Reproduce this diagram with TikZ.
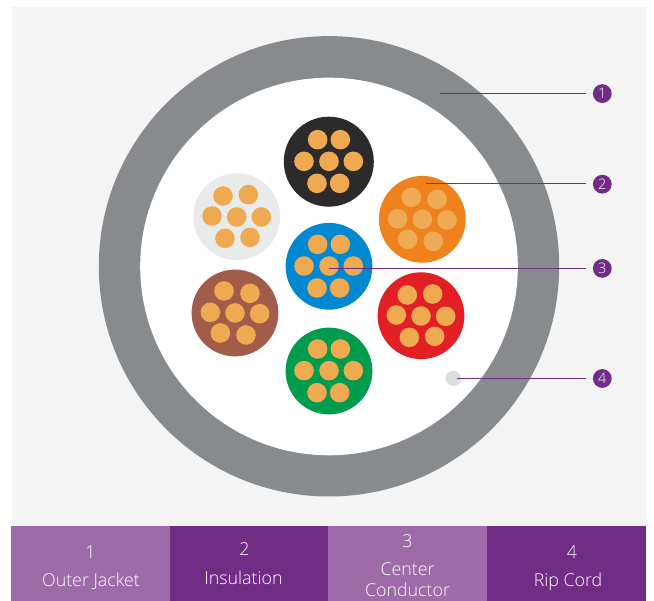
\documentclass[tikz,border=0pt]{standalone}
\usepackage{fontspec}
\setmainfont{Open Sans Light}[BoldFont={Open Sans}]
\definecolor{panel}{HTML}{F4F4F4}
\definecolor{jacket}{HTML}{888B8D}
\definecolor{purp}{HTML}{712D85}
\definecolor{lpurp}{HTML}{9E6AA8}
\definecolor{copper}{HTML}{EFA950}
\definecolor{copperb}{HTML}{EFAA55}
\definecolor{cblack}{HTML}{2C2A2B}
\definecolor{cgray}{HTML}{E9EBEA}
\definecolor{corange}{HTML}{F0821E}
\definecolor{cblue}{HTML}{0089D0}
\definecolor{cbrown}{HTML}{A25D4A}
\definecolor{cred}{HTML}{E31F26}
\definecolor{cgreen}{HTML}{009B4C}
\definecolor{cord}{HTML}{DCDDDE}
\tikzset{
  x=1pt,y=-1pt,
  wire/.style={fill=#1,draw=none},
  strand/.style={fill=#1,draw=none},
  leader/.style={draw=purp,line width=1pt},
  badge/.style={circle,fill=purp,text=white,inner sep=0pt,minimum size=18.8pt,font=\fontsize{14.5}{14.5}\selectfont},
  barbox/.style={rectangle,fill=#1,draw=none,inner sep=0pt,minimum width=158.6pt,minimum height=75pt,anchor=north west},
  bartext/.style={text=white,inner sep=0pt,font=\fontsize{17.8}{17.8}\selectfont},
}
% centre in zoom units (3x, origin 180,110); strand centres likewise
\newcommand{\cablewire}[5][copper]{%
  \fill[wire=#3] ({#2}) circle (#5);
  \foreach \sx/\sy in {#4}{
    \fill[strand=#1] ({180+\sx/3},{110+\sy/3}) circle (9.8);
  }%
}
\begin{document}
\begin{tikzpicture}
\useasboundingbox (0,0) rectangle (654,601);
\fill[white] (0,0) rectangle (654,601);
\fill[panel] (12,7) rectangle (646,526);
\fill[jacket] (329,266.3) circle (230.2);
\fill[white] (329,266.5) circle (188.8);

\cablewire{328.8,161.7}{cblack}{413/89,481/89,372/154,447/154,520/154,411/220,479/220}{45}
\cablewire{236.7,216.7}{cgray}{129/258,205/254,96/318,170/321,244/321,135/385,210/382}{43.4}
\cablewire[copperb]{422.3,219.3}{corange}{694/262,771/268,653/326,727/328,801/330,683/388,760/394}{43.4}
\cablewire{329,266.3}{cblue}{413/403,481/403,372/468,447/468,520/468,411/534,479/534}{43.4}
\cablewire{235,313}{cbrown}{132/543,210/550,91/607,165/609,239/611,121/669,198/675}{43.4}
\cablewire{421,315.7}{cred}{682/555,758/552,649/615,723/618,797/619,688/682,764/679}{43.4}
\cablewire{329,371}{cgreen}{413/717,481/717,372/782,447/782,520/782,411/848,479/848}{43.4}
\fill[cord] (453.3,378.4) circle (7.7);

\coordinate (p1) at (440,93.4);
\coordinate (p2) at (426,184);
\coordinate (p3) at (329,268.3);
\coordinate (p4) at (456.7,378.4);
\node[badge] (b1) at (602.3,93.6) {1};
\node[badge] (b2) at (602.3,184.2) {2};
\node[badge] (b3) at (602.3,268.4) {3};
\node[badge] (b4) at (602.3,378.5) {4};
\coordinate (e1) at (585.7,93.4);
\coordinate (e2) at (585.7,184);
\coordinate (e3) at (585.7,268.3);
\coordinate (e4) at (585.7,378.4);
\draw[leader] (p1) -- (e1);
\draw[leader] (p2) -- (e2);
\draw[leader] (p3) -- (e3);
\draw[leader] (p4) -- (e4);

\node[barbox=lpurp] (k1) at (11,526) {};
\node[barbox=purp] (k2) at (169.6,526) {};
\node[barbox=lpurp] (k3) at (328.2,526) {};
\node[barbox=purp] (k4) at (486.8,526) {};

\node[bartext] (t1a) at (90.5,552.5) {1};
\node[bartext] (t1b) at (91,581) {Outer Jacket};
\node[bartext] (t2a) at (244.5,549) {2};
\node[bartext] (t2b) at (243.5,578) {Insulation};
\node[bartext] (t3a) at (407.5,541) {3};
\node[bartext] (t3b) at (407.5,569.5) {Center};
\node[bartext] (t3c) at (407.5,590) {Conductor};
\node[bartext] (t4a) at (572,552) {4};
\node[bartext] (t4b) at (568,581.5) {Rip Cord};
\end{tikzpicture}
\end{document}
